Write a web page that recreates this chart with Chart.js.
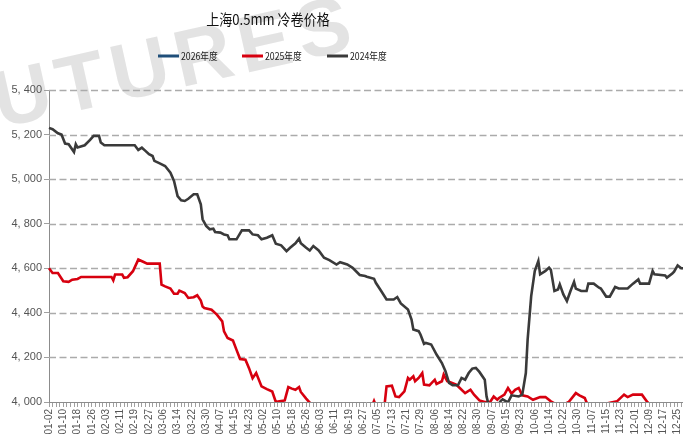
<!DOCTYPE html>
<html>
<head>
<meta charset="utf-8">
<script src="https://cdn.jsdelivr.net/npm/chart.js@4.4.1/dist/chart.umd.min.js"></script>
<style>
html,body{margin:0;padding:0;background:#fff;}
#wrap{width:683px;height:442px;}
</style>
</head>
<body>
<div id="wrap"><canvas id="priceChart" width="683" height="442"></canvas></div>
<script>

// x axis: daily MM-DD, some holiday dates are missing
const monthDays = [31, 29, 31, 30, 31, 30, 31, 31, 30, 31, 30, 31];
const skippedDays = ["05-01", "10-01", "10-02", "10-03", "10-04", "10-05"];
const firstDay = "01-02";
const lastDay = "12-28";
const labelEvery = 8;

const yMin = 4000;
const yMax = 5400;
const yStep = 200;

const titleText = "上海0.5mm 冷卷价格";
const seriesNames = ["2026年度", "2025年度", "2024年度"];
const seriesColors = ["#1f4e79", "#d7000f", "#3a3a3a"];

const dates2026 = [];
const prices2026 = [];

const dates2025 = [
"01-02","01-04","01-07","01-10","01-13","01-15","01-18","01-20","02-06","02-07",
"02-08","02-12","02-13","02-15","02-18","02-21","02-24","02-26","03-04","03-05",
"03-07","03-10","03-12","03-14","03-15","03-18","03-20","03-23","03-25","03-27",
"03-28","03-29","04-02","04-05","04-08","04-09","04-11","04-14","04-16","04-18",
"04-21","04-23","04-25","04-27","04-30","05-04","05-07","05-09","05-11","05-14",
"05-16","05-18","05-20","05-22","05-23","05-26","05-28","06-11","06-26","07-02",
"07-03","07-04","07-09","07-10","07-13","07-15","07-17","07-20","07-22","07-23",
"07-25","07-26","07-28","07-30","07-31","08-03","08-06","08-07","08-10","08-11",
"08-13","08-15","08-18","08-20","08-23","08-26","08-28","08-31","09-03","09-06",
"09-08","09-10","09-11","09-14","09-16","09-18","09-20","09-22","09-24","09-27",
"09-30","10-09","10-12","10-15","10-20","10-25","10-29","10-31","11-03","11-04",
"11-11","11-16","11-21","11-25","11-27","11-30","12-05","12-08","12-13"
];
const prices2025 = [
4600,4579,4579,4542,4539,4549,4552,4561,4561,4546,
4572,4572,4557,4560,4587,4639,4628,4621,4621,4527,
4519,4509,4486,4486,4500,4489,4467,4470,4479,4455,
4429,4422,4414,4392,4362,4317,4287,4276,4234,4193,
4190,4152,4107,4130,4070,4058,4047,4000,4003,4007,
4067,4060,4055,4067,4045,4015,3997,3930,3950,3985,
4005,3985,3995,4070,4073,4025,4022,4048,4108,4100,
4115,4093,4108,4130,4078,4075,4100,4081,4093,4123,
4093,4088,4078,4063,4040,4055,4033,4007,4000,4000,
4025,4010,4018,4033,4063,4038,4055,4063,4030,4025,
4010,4022,4022,4003,3980,4000,4040,4030,4018,3998,
3960,3995,4003,4033,4022,4033,4033,4000,3960
];

const dates2024 = [
"01-02","01-04","01-07","01-09","01-11","01-13","01-16","01-17","01-18","01-22",
"01-25","01-27","01-30","01-31","02-02","02-19","02-21","02-23","02-25","02-27",
"02-29","03-01","03-04","03-07","03-10","03-12","03-14","03-16","03-18","03-20",
"03-23","03-25","03-27","03-28","03-30","04-01","04-03","04-04","04-07","04-09",
"04-11","04-12","04-16","04-19","04-23","04-25","04-28","04-30","05-04","05-07",
"05-09","05-12","05-15","05-17","05-20","05-22","05-23","05-26","05-28","05-30",
"06-02","06-05","06-08","06-12","06-14","06-18","06-21","06-25","06-28","06-29",
"07-03","07-04","07-07","07-10","07-14","07-16","07-18","07-22","07-24","07-25",
"07-28","07-29","07-31","08-01","08-04","08-07","08-10","08-12","08-14","08-16",
"08-19","08-21","08-23","08-25","08-27","08-29","08-31","09-03","09-04","09-06",
"09-09","09-12","09-13","09-16","09-18","09-22","09-24","09-26","09-27","09-29",
"10-06","10-08","10-09","10-12","10-14","10-15","10-17","10-19","10-20","10-22",
"10-24","10-26","10-28","10-29","11-01","11-04","11-05","11-08","11-11","11-12",
"11-15","11-17","11-20","11-22","11-27","11-30","12-03","12-04","12-09","12-11",
"12-12","12-18","12-19","12-22","12-23","12-25","12-27","12-28"
];
const prices2024 = [
5230,5224,5206,5200,5160,5157,5122,5157,5142,5152,
5176,5194,5194,5164,5152,5152,5131,5141,5127,5112,
5104,5082,5071,5059,5029,4992,4924,4905,4902,4912,
4932,4932,4887,4820,4790,4775,4778,4763,4760,4752,
4748,4730,4730,4770,4770,4752,4748,4730,4737,4748,
4710,4703,4677,4692,4712,4733,4712,4692,4680,4700,
4680,4647,4637,4617,4627,4617,4602,4570,4565,4562,
4553,4535,4498,4460,4460,4471,4442,4415,4370,4325,
4318,4303,4261,4265,4258,4213,4175,4138,4086,4075,
4075,4108,4100,4130,4150,4153,4135,4100,4025,3960,
3970,4005,4012,3998,4030,4025,4033,4130,4280,4475,
4588,4633,4573,4588,4603,4593,4498,4505,4528,4483,
4453,4498,4539,4509,4498,4498,4531,4531,4513,4509,
4473,4473,4516,4509,4509,4531,4550,4531,4531,4588,
4573,4568,4558,4576,4585,4613,4600,4600
];

let categories = [];
let inRange = false;
for (let m = 1; m <= 12; m++) {
  for (let d = 1; d <= monthDays[m - 1]; d++) {
    const key = String(m).padStart(2, "0") + "-" + String(d).padStart(2, "0");
    if (key === firstDay) inRange = true;
    if (inRange && !skippedDays.includes(key)) categories.push(key);
    if (key === lastDay) inRange = false;
  }
}

function toPoints(dates, prices) {
  return dates.map((d, i) => ({ x: d, y: prices[i] }));
}

function formatPrice(v) {
  const s = String(v);
  return s.slice(0, s.length - 3) + ", " + s.slice(-3);
}

// faint background watermark
const watermark = {
  id: "watermark",
  beforeDraw(chart) {
    const ctx = chart.ctx;
    ctx.save();
    ctx.fillStyle = "rgba(200,200,200,0.5)";
    ctx.font = "bold 80px 'Liberation Sans'";
    ctx.letterSpacing = "7px";
    ctx.translate(0, 128);
    ctx.rotate(-0.22);
    ctx.fillText("FUTURES", -56, 0);
    ctx.restore();
  }
};

// dashed horizontal grid, drawn through the y scale
const dashedGrid = {
  id: "dashedGrid",
  beforeDatasetsDraw(chart) {
    const { ctx, chartArea, scales } = chart;
    const y = scales.y;
    ctx.save();
    ctx.strokeStyle = "#ababab";
    ctx.lineWidth = 1.4;
    ctx.setLineDash([7, 3.5]);
    y.ticks.forEach((t) => {
      if (t.value === yMin) return;
      const py = Math.round(y.getPixelForValue(t.value)) + 0.5;
      ctx.beginPath();
      ctx.moveTo(chartArea.left, py);
      ctx.lineTo(chartArea.right, py);
      ctx.stroke();
    });
    ctx.restore();
  }
};

// title and legend, placed like the original
const header = {
  id: "header",
  afterDraw(chart) {
    const ctx = chart.ctx;
    ctx.save();
    ctx.fillStyle = "#111";
    ctx.textBaseline = "middle";
    ctx.textAlign = "center";
    ctx.translate(268, 19);
    ctx.scale(0.87, 1);
    ctx.font = "15px 'Noto Sans CJK SC'";
    ctx.fillText(titleText, 0, 0);
    ctx.restore();

    const legendX = [158, 242, 327];
    chart.data.datasets.forEach((ds, i) => {
      const x = legendX[i];
      ctx.save();
      ctx.strokeStyle = ds.borderColor;
      ctx.lineWidth = 3;
      ctx.beginPath();
      ctx.moveTo(x, 56);
      ctx.lineTo(x + 21, 56);
      ctx.stroke();
      ctx.fillStyle = "#222";
      ctx.textBaseline = "middle";
      ctx.translate(x + 23, 56.5);
      ctx.scale(0.87, 1);
      ctx.font = "10px 'Noto Sans CJK SC'";
      ctx.fillText(ds.label, 0, 0);
      ctx.restore();
    });
  }
};

const ctx = document.getElementById("priceChart");

const chart = new Chart(ctx, {
  type: "line",
  data: {
    labels: categories,
    datasets: [
      {
        label: seriesNames[0],
        data: toPoints(dates2026, prices2026),
        borderColor: seriesColors[0],
        order: 2
      },
      {
        label: seriesNames[1],
        data: toPoints(dates2025, prices2025),
        borderColor: seriesColors[1],
        order: 1
      },
      {
        label: seriesNames[2],
        data: toPoints(dates2024, prices2024),
        borderColor: seriesColors[2],
        order: 0
      }
    ]
  },
  options: {
    responsive: false,
    animation: false,
    layout: { padding: { top: 90, left: 0, right: 0, bottom: 0 } },
    elements: {
      line: { borderWidth: 2.6, tension: 0, fill: false },
      point: { radius: 0 }
    },
    plugins: {
      legend: { display: false },
      title: { display: false },
      tooltip: { enabled: false }
    },
    scales: {
      x: {
        type: "category",
        offset: false,
        grid: {
          drawOnChartArea: false,
          drawTicks: true,
          tickLength: 5,
          lineWidth: 1,
          tickColor: (c) => (c.index % 2 === 0 ? "#a0a0a0" : "rgba(0,0,0,0)")
        },
        border: { color: "#8c8c8c", width: 1 },
        ticks: {
          autoSkip: false,
          minRotation: 90,
          maxRotation: 90,
          padding: 2,
          color: "#555",
          font: { family: "'Liberation Sans'", size: 10 },
          callback: (v, i) => (i % labelEvery === 0 ? categories[i] : "")
        },
        afterFit(scale) {
          scale.height = 40;
          scale.paddingLeft = 0;
          scale.paddingRight = 0;
        }
      },
      y: {
        min: yMin,
        max: yMax,
        grid: {
          drawOnChartArea: false,
          drawTicks: true,
          tickLength: 5,
          tickColor: "#a0a0a0",
          tickWidth: 1
        },
        border: { color: "#8c8c8c", width: 1 },
        ticks: {
          stepSize: yStep,
          padding: 2,
          color: "#555",
          font: { family: "'Liberation Sans'", size: 11 },
          callback: (v) => formatPrice(v)
        },
        afterFit(scale) {
          scale.width = 49;
          scale.paddingTop = 0;
          scale.paddingBottom = 0;
        }
      }
    }
  },
  plugins: [watermark, dashedGrid, header]
});

</script>
</body>
</html>
